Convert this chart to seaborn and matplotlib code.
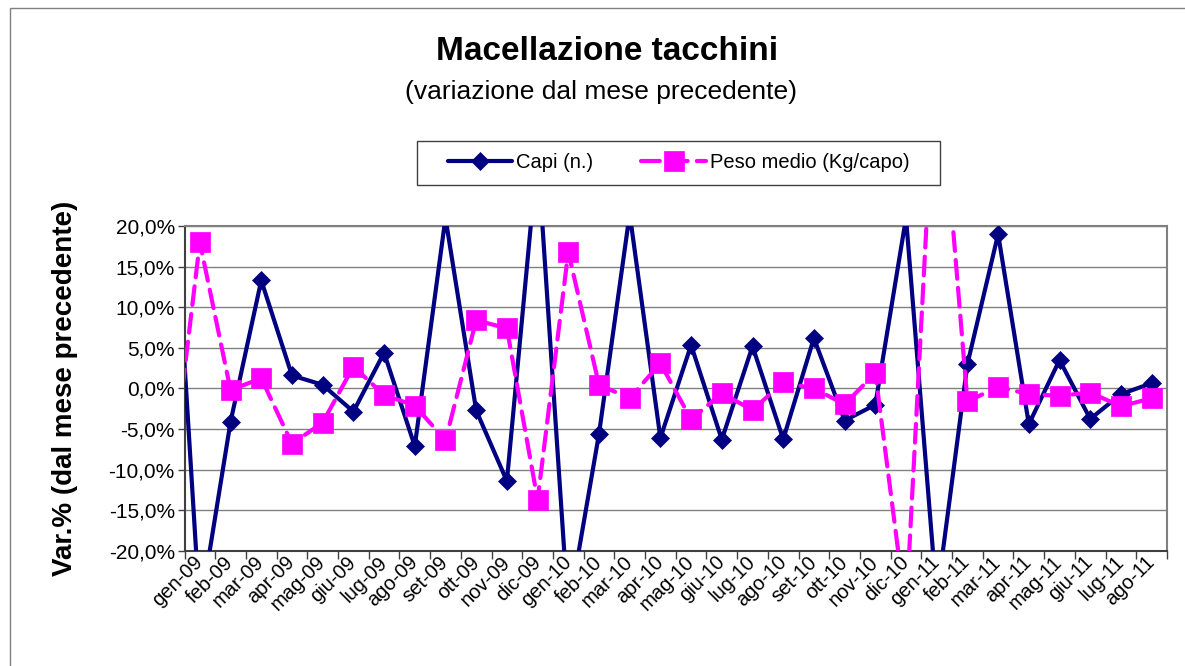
import numpy as np
import pandas as pd
import seaborn as sns
import matplotlib.pyplot as plt
from matplotlib.ticker import FuncFormatter, FixedLocator
from matplotlib.patches import Rectangle

# first month (dic-08) sits just left of the visible range, only its segment shows
months = ['dic-08',
          'gen-09', 'feb-09', 'mar-09', 'apr-09', 'mag-09', 'giu-09', 'lug-09', 'ago-09',
          'set-09', 'ott-09', 'nov-09', 'dic-09',
          'gen-10', 'feb-10', 'mar-10', 'apr-10', 'mag-10', 'giu-10', 'lug-10', 'ago-10',
          'set-10', 'ott-10', 'nov-10', 'dic-10',
          'gen-11', 'feb-11', 'mar-11', 'apr-11', 'mag-11', 'giu-11', 'lug-11', 'ago-11']

# variazione % dal mese precedente
capi = [33.7,
        -27.5, -4.1, 13.3, 1.6, 0.45, -2.85, 4.4, -7.1, 21.0, -2.7, -11.4, 29.0,
        -27.5, -5.6, 21.5, -6.1, 5.35, -6.3, 5.2, -6.25, 6.2, -3.95, -2.0, 21.0,
        -25.8, 3.0, 19.0, -4.4, 3.5, -3.75, -0.7, 0.65]
peso = [-13.6,
        18.0, -0.2, 1.25, -6.8, -4.2, 2.7, -0.8, -2.1, -6.4, 8.4, 7.4, -13.7,
        16.8, 0.45, -1.2, 3.1, -3.8, -0.6, -2.65, 0.75, 0.0, -1.95, 1.9, -27.5,
        44.0, -1.6, 0.2, -0.7, -0.9, -0.5, -2.2, -1.2]

df = pd.DataFrame({'mese': months, 'capi': capi, 'peso': peso})
df['pos'] = np.arange(len(df)) - 1

sns.set_style('white')
plt.rcParams['font.family'] = ['Liberation Sans', 'DejaVu Sans']
plt.rcParams['text.color'] = 'black'
plt.rcParams['xtick.color'] = 'black'
plt.rcParams['ytick.color'] = 'black'

fig = plt.figure(figsize=(11.85, 6.66), dpi=100)
ax = fig.add_axes([0.1557, 0.1727, 0.9848 - 0.1557, 0.6607 - 0.1727])

navy = '#000080'
magenta = '#FF00FF'

sns.lineplot(data=df, x='pos', y='capi', ax=ax, color=navy, linewidth=3,
             marker='D', markersize=9, markeredgecolor=navy, markeredgewidth=0.5,
             label='Capi (n.)', zorder=3)
sns.lineplot(data=df, x='pos', y='peso', ax=ax, color=magenta, linewidth=3,
             marker='s', markersize=14, markeredgecolor=magenta, markeredgewidth=0.5,
             label='Peso medio (Kg/capo)', zorder=4)
peso_line = ax.lines[-1]
peso_line.set_dashes((4.5, 2.2))
peso_line.set_dash_capstyle('round')

ax.set_xlim(-0.5, len(months) - 1.5)
ax.set_ylim(-20, 20)
ax.set_yticks(np.arange(-20, 20.1, 5))
ax.yaxis.set_major_formatter(FuncFormatter(lambda v, p: f'{v:.1f}%'.replace('.', ',')))
ax.yaxis.grid(True, color='#808080', linewidth=1)
ax.set_xlabel('')
ax.set_ylabel('')

# category labels at centres, tick marks between categories
ax.set_xticks(df['pos'][1:])
ax.set_xticklabels(df['mese'][1:], rotation=45, ha='right', va='center',
                   rotation_mode='anchor', fontsize=14.5)
ax.xaxis.set_minor_locator(FixedLocator(np.arange(-0.5, len(months) - 1, 1)))
ax.tick_params(axis='x', which='major', length=0, pad=6)
ax.tick_params(axis='x', which='minor', bottom=True, length=6, width=1, color='#404040')
ax.tick_params(axis='y', left=True, length=5, width=1, color='#404040', labelsize=15, pad=2)

for side in ['top', 'right']:
    ax.spines[side].set_color('#808080')
    ax.spines[side].set_linewidth(1.5)
for side in ['left', 'bottom']:
    ax.spines[side].set_color('#404040')
    ax.spines[side].set_linewidth(1.5)

leg = ax.legend(loc='center', bbox_to_anchor=(0.5726, 0.7553), bbox_transform=fig.transFigure,
                ncol=2, fontsize=14.5, frameon=False, handlelength=3.2,
                handletextpad=0.2, columnspacing=2.4, borderpad=0.5)
for t in leg.get_texts():
    t.set_color('black')

# legend box
fig.patches.append(Rectangle((417 / 1185, 1 - 185 / 666), 523 / 1185, 44 / 666,
                             transform=fig.transFigure, fill=False,
                             edgecolor='#404040', linewidth=1))

fig.text(0.5127, 0.922, 'Macellazione tacchini', ha='center', va='center',
         fontsize=24, fontweight='bold')
fig.text(0.5068, 0.862, '(variazione dal mese precedente)', ha='center', va='center',
         fontsize=19)
fig.text(65 / 1185, 1 - 388 / 666, 'Var.% (dal mese precedente)', ha='center', va='center',
         rotation=90, fontsize=20, fontweight='bold')

# outer chart frame (only top and left edges fall inside the picture)
fig.patches.append(Rectangle((10 / 1185, -0.1), 1.2, 1.1 - 8 / 666, transform=fig.transFigure,
                             fill=False, edgecolor='#808080', linewidth=1))

fig.savefig('out.png', dpi=100)
